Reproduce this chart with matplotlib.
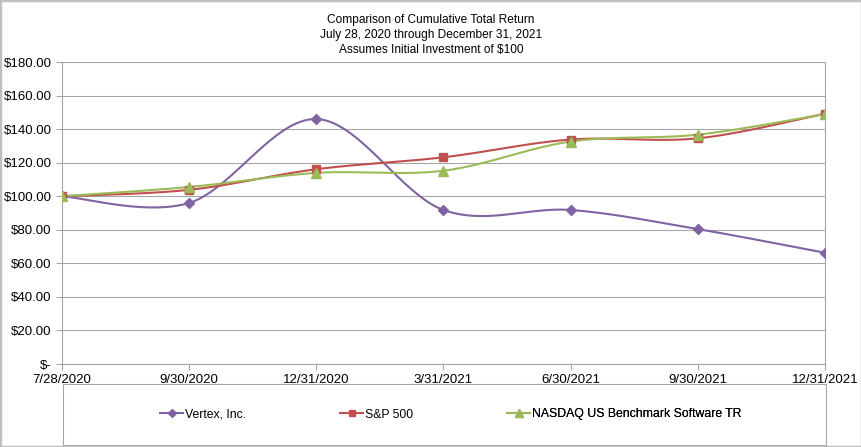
import numpy as np
import matplotlib.pyplot as plt
from matplotlib.patches import Rectangle
from matplotlib.lines import Line2D

plt.rcParams['font.family'] = ['Liberation Sans Narrow', 'Liberation Sans', 'DejaVu Sans']

dates = ["7/28/2020", "9/30/2020", "12/31/2020", "3/31/2021", "6/30/2021", "9/30/2021", "12/31/2021"]
vertex = [100.0, 96.0, 146.0, 91.8, 91.8, 80.4, 66.3]
sp500 = [100.0, 103.8, 116.1, 123.2, 133.8, 134.5, 149.2]
nasdaq = [100.0, 105.5, 113.9, 115.2, 132.6, 136.7, 149.0]
yticks = [0, 20, 40, 60, 80, 100, 120, 140, 160, 180]


def smooth(xs, ys, n=40):
    # excel style bezier smoothing
    x = np.asarray(xs, float)
    y = np.asarray(ys, float)
    px = np.concatenate([[x[0]], x, [x[-1]]])
    py = np.concatenate([[y[0]], y, [y[-1]]])
    outx, outy = [], []
    t = np.linspace(0, 1, n)
    for i in range(len(x) - 1):
        p0 = np.array([px[i + 1], py[i + 1]])
        p3 = np.array([px[i + 2], py[i + 2]])
        c1 = p0 + (np.array([px[i + 2], py[i + 2]]) - np.array([px[i], py[i]])) / 6
        c2 = p3 - (np.array([px[i + 3], py[i + 3]]) - p0) / 6
        b = ((1 - t) ** 3)[:, None] * p0 + (3 * (1 - t) ** 2 * t)[:, None] * c1 \
            + (3 * (1 - t) * t ** 2)[:, None] * c2 + (t ** 3)[:, None] * p3
        outx.extend(b[:, 0])
        outy.extend(b[:, 1])
    return outx, outy


fig = plt.figure(figsize=(8.62, 4.47), dpi=100)
ax = fig.add_axes([62 / 862, 1 - 364 / 447, (825 - 62) / 862, (364 - 62) / 447])

xs = np.arange(len(dates))
series = [
    ("Vertex, Inc.", vertex, "#8064A2", "D", 5),
    ("S&P 500", sp500, "#C0504D", "s", 6),
    ("NASDAQ US Benchmark Software TR", nasdaq, "#9BBB59", "^", 7),
]
handles = []
for name, vals, col, mk, ms in series:
    sx, sy = smooth(xs, vals)
    ax.plot(sx, sy, color=col, lw=1.5, zorder=3)
    ax.plot(xs, vals, ls="none", marker=mk, ms=ms, color=col, zorder=4)
    handles.append(Line2D([], [], color=col, lw=1.5, marker=mk, ms=ms - 1, label=name))

ax.set_xlim(0, len(dates) - 1)
ax.set_ylim(0, 180)
ax.set_yticks(yticks)
ax.set_yticklabels(["$-"] + [f"${v:.2f}" for v in yticks[1:]])
ax.set_xticks(xs)
ax.set_xticklabels(dates)
ax.grid(axis="y", color="#A6A6A6", lw=0.8)
ax.set_axisbelow(True)
for s in ax.spines.values():
    s.set_color("#A6A6A6")
ax.spines["top"].set_visible(False)
ax.tick_params(axis="both", colors="#A6A6A6", labelcolor="black", labelsize=9.5, length=4)
ax.tick_params(axis="x", pad=3)

fig.text(0.5, 1 - 35 / 447, "Comparison of Cumulative Total Return\nJuly 28, 2020 through December 31, 2021\nAssumes Initial Investment of $100",
         ha="center", va="center", fontsize=8.6, linespacing=1.3)

# legend box, one legend per entry so they sit on the same line
lax = fig.add_axes([63 / 862, 1 - 445 / 447, (826 - 63) / 862, (445 - 384) / 447])
lax.set_xticks([])
lax.set_yticks([])
for s in lax.spines.values():
    s.set_color("#A6A6A6")
for h, xpos in zip(handles, [0.127, 0.363, 0.582]):
    leg = lax.legend(handles=[h], loc="center left", frameon=False, fontsize=8.8,
                     handlelength=1.9, handletextpad=0.15,
                     bbox_to_anchor=(xpos, 0.5), borderpad=0, borderaxespad=0)
    lax.add_artist(leg)

fig.patches.append(Rectangle((0, 0), 1, 1, transform=fig.transFigure, fill=False,
                             edgecolor="#BFBFBF", lw=2.5))

fig.savefig("out.png", dpi=100)
